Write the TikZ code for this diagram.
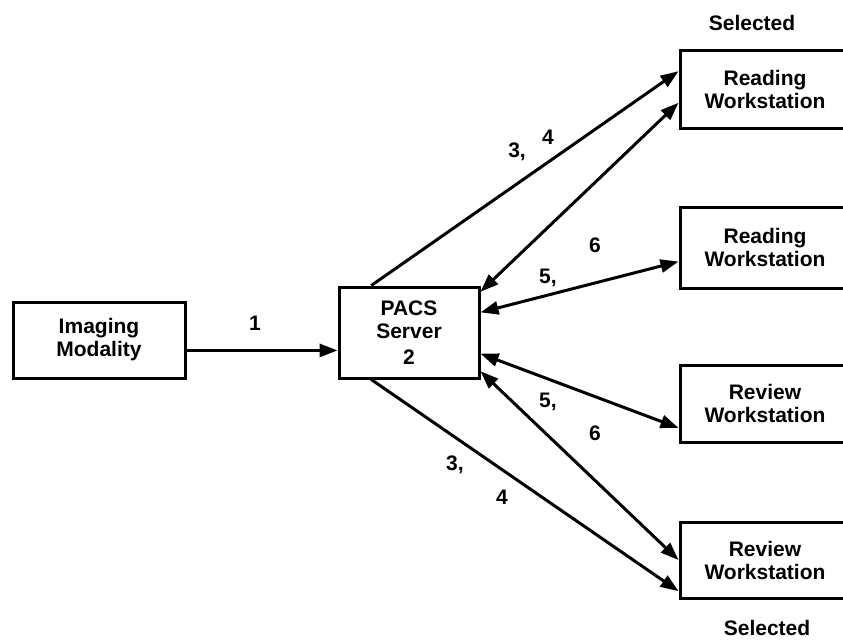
\documentclass[tikz,border=0pt]{standalone}
\usepackage{fontspec}
\setmainfont{Liberation Sans}
\usetikzlibrary{arrows.meta,calc}
\begin{document}
\begin{tikzpicture}[x=1pt,y=-1pt,
  box/.style={draw,line width=3pt,inner sep=0pt,align=center,font=\bfseries\fontsize{21}{23}\selectfont},
  wsbox/.style={box,minimum width=170pt},
  lbl/.style={font=\bfseries\fontsize{21}{23}\selectfont,inner sep=0pt},
  tip/.tip={Triangle[length=18pt,width=13pt]},
  conn/.style={line width=3pt,-tip},
  dconn/.style={line width=3pt,tip-tip}]
\useasboundingbox (0,0) rectangle (843,641);
\clip (0,0) rectangle (843,641);

\node[box,minimum width=172pt,minimum height=76pt] (im) at (99,340) {Imaging\\Modality};
\node[box,minimum width=140pt,minimum height=91pt] (pacs) at (409,332.5) {PACS\\Server\\[3pt]2};
\node[wsbox,minimum height=78pt] (rw1) at (765,89) {Reading\\Workstation};
\node[wsbox,minimum height=81pt] (rw2) at (765,247.5) {Reading\\Workstation};
\node[wsbox,minimum height=77pt] (rv1) at (765,403.5) {Review\\Workstation};
\node[wsbox,minimum height=76pt] (rv2) at (765,560) {Review\\Workstation};

\node[lbl] (sel1) at (752,23) {Selected};
\node[lbl] (sel2) at (767,628) {Selected};

% endpoints
\coordinate (imout) at ($(im.north east)!0.632!(im.south east)$);
\coordinate (ptop) at ($(pacs.north west)!0.236!(pacs.north east)$);
\coordinate (pbot) at ($(pacs.south west)!0.236!(pacs.south east)$);
\coordinate (pr1) at ($(pacs.north east)!0.066!(pacs.south east)$);
\coordinate (pr2) at ($(pacs.north east)!0.286!(pacs.south east)$);
\coordinate (pr3) at ($(pacs.north east)!0.725!(pacs.south east)$);
\coordinate (pr4) at ($(pacs.north east)!0.912!(pacs.south east)$);
\coordinate (w1a) at ($(rw1.north west)!0.28!(rw1.south west)$);
\coordinate (w1b) at ($(rw1.north west)!0.67!(rw1.south west)$);
\coordinate (w2) at ($(rw2.north west)!0.667!(rw2.south west)$);
\coordinate (v1) at ($(rv1.north west)!0.805!(rv1.south west)$);
\coordinate (v2a) at ($(rv2.north west)!0.5!(rv2.south west)$);
\coordinate (v2b) at ($(rv2.north west)!0.895!(rv2.south west)$);

\draw[conn] (imout) -- (imout -| pacs.west);
\draw[conn] (ptop) -- (w1a);
\draw[dconn] (pr1) -- (w1b);
\draw[dconn] (pr2) -- (w2);
\draw[dconn] (pr3) -- (v1);
\draw[dconn] (pr4) -- (v2a);
\draw[conn] (pbot) -- (v2b);

\node[lbl] (l1) at (255,323) {1};
\node[lbl] (l3a) at (517,152) {3,};
\node[lbl] (l4a) at (548,137) {4};
\node[lbl] (l5a) at (548,278) {5,};
\node[lbl] (l6a) at (595,245) {6};
\node[lbl] (l5b) at (548,402) {5,};
\node[lbl] (l6b) at (595,433) {6};
\node[lbl] (l3b) at (455,465) {3,};
\node[lbl] (l4b) at (502,497) {4};
\end{tikzpicture}
\end{document}
